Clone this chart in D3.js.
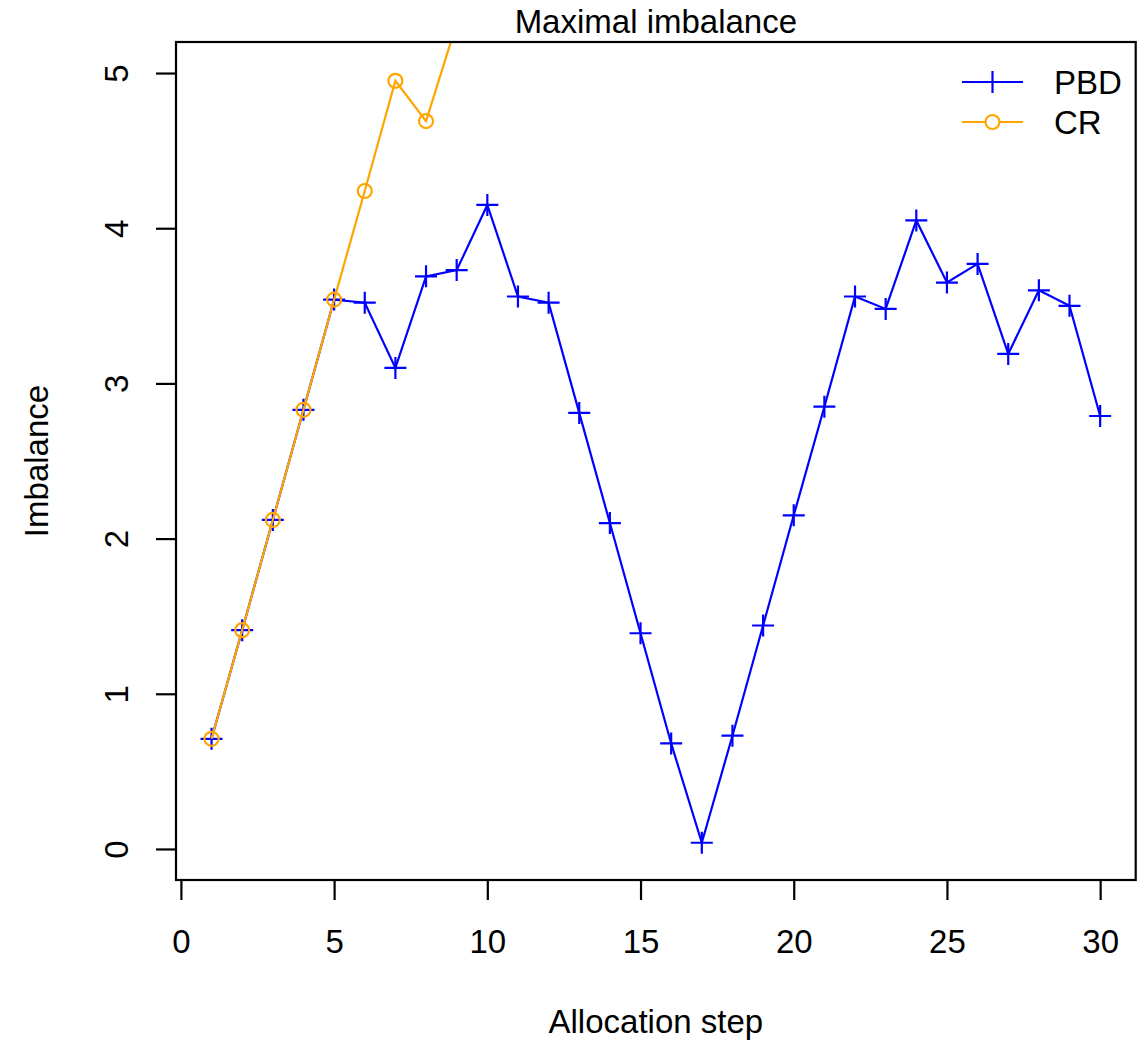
<!DOCTYPE html>
<html>
<head>
<meta charset="utf-8">
<script src="https://cdn.jsdelivr.net/npm/d3@7"></script>
<style>
  body { margin: 0; background: #fff; }
  text { font-family: "Liberation Sans", Arial, sans-serif; fill: #000; }
</style>
</head>
<body>
<svg id="chart" width="1148" height="1041"></svg>
<script>
// ---- data ----
const steps = d3.range(1, 31);
const pbdValues = [0.71, 1.41, 2.12, 2.83, 3.54, 3.52, 3.10, 3.69, 3.73, 4.15,
                   3.56, 3.52, 2.81, 2.10, 1.39, 0.68, 0.04, 0.73, 1.44, 2.15,
                   2.85, 3.56, 3.48, 4.05, 3.65, 3.77, 3.19, 3.60, 3.50, 2.79];
const crSteps = [1, 2, 3, 4, 5, 6, 7, 8, 9];
const crValues = [0.71, 1.41, 2.12, 2.83, 3.54, 4.24, 4.95, 4.69, 5.32];
const xTicks = [0, 5, 10, 15, 20, 25, 30];
const yTicks = [0, 1, 2, 3, 4, 5];
const seriesNames = ["PBD", "CR"];
const seriesColors = ["#0000FF", "#FFA500"];
const titleText = "Maximal imbalance";
const xLabel = "Allocation step";
const yLabel = "Imbalance";

// ---- layout ----
const svg = d3.select("#chart");
const L = 176, R = 1135.7, T = 42, B = 880;
const FS = 33;
const SW = 2.2;
const x = d3.scaleLinear().domain([-0.16, 31.16]).range([L, R]);
const y = d3.scaleLinear().domain([-0.2, 5.2]).range([B, T]);

svg.append("defs").append("clipPath").attr("id", "plotclip")
  .append("rect").attr("x", L).attr("y", T).attr("width", R - L).attr("height", B - T);

const plot = svg.append("g").attr("clip-path", "url(#plotclip)");

const line = d3.line().x(d => x(d[0])).y(d => y(d[1]));

const pbd = steps.map((s, i) => [s, pbdValues[i]]);
const cr = crSteps.map((s, i) => [s, crValues[i]]);

// PBD
plot.append("path").datum(pbd).attr("d", line)
  .attr("fill", "none").attr("stroke", seriesColors[0]).attr("stroke-width", SW);
const plusPath = h => `M${-h},0H${h}M0,${-h}V${h}`;
plot.selectAll(".pbdpt").data(pbd).enter().append("path")
  .attr("transform", d => `translate(${x(d[0])},${y(d[1])})`)
  .attr("d", plusPath(11)).attr("stroke", seriesColors[0]).attr("stroke-width", SW).attr("fill", "none");

// CR
plot.append("path").datum(cr).attr("d", line)
  .attr("fill", "none").attr("stroke", seriesColors[1]).attr("stroke-width", SW);
plot.selectAll(".crpt").data(cr.slice(0, 8)).enter().append("circle")
  .attr("cx", d => x(d[0])).attr("cy", d => y(d[1])).attr("r", 7)
  .attr("stroke", seriesColors[1]).attr("stroke-width", SW).attr("fill", "none");

// box
svg.append("rect").attr("x", L).attr("y", T).attr("width", R - L).attr("height", B - T)
  .attr("fill", "none").attr("stroke", "#000").attr("stroke-width", 2.2);

// x axis
const xa = svg.append("g").attr("transform", `translate(0,${B})`)
  .call(d3.axisBottom(x).tickValues(xTicks).tickSize(20).tickSizeOuter(0).tickFormat(d3.format("d")));
xa.select(".domain").remove();
xa.selectAll("line").attr("stroke", "#000").attr("stroke-width", 2.2);
xa.selectAll("text").attr("y", 73).attr("dy", 0).style("font-size", FS + "px")
  .style("font-family", "Liberation Sans, Arial, sans-serif").attr("fill", "#000");

// y axis
const ya = svg.append("g").attr("transform", `translate(${L},0)`)
  .call(d3.axisLeft(y).tickValues(yTicks).tickSize(20).tickSizeOuter(0).tickFormat(d3.format("d")));
ya.select(".domain").remove();
ya.selectAll("line").attr("stroke", "#000").attr("stroke-width", 2.2);
ya.selectAll("text").attr("x", 0).attr("y", -48).attr("dy", 0)
  .attr("transform", "rotate(-90)").attr("text-anchor", "middle")
  .style("font-size", FS + "px").style("font-family", "Liberation Sans, Arial, sans-serif").attr("fill", "#000");

// titles
const cx = (L + R) / 2;
svg.append("text").attr("x", cx).attr("y", 33).attr("text-anchor", "middle")
  .style("font-size", FS + "px").text(titleText);
svg.append("text").attr("x", cx).attr("y", 1033).attr("text-anchor", "middle")
  .style("font-size", FS + "px").text(xLabel);
svg.append("text").attr("transform", `translate(48,${(T + B) / 2}) rotate(-90)`)
  .attr("text-anchor", "middle").style("font-size", FS + "px").text(yLabel);

// legend
const legY = [82, 122];
seriesNames.forEach((name, i) => {
  const g = svg.append("g");
  g.append("line").attr("x1", 962).attr("x2", 1023).attr("y1", legY[i]).attr("y2", legY[i])
    .attr("stroke", seriesColors[i]).attr("stroke-width", SW);
  if (i === 0) {
    g.append("path").attr("transform", `translate(992.5,${legY[i]})`).attr("d", plusPath(11))
      .attr("stroke", seriesColors[i]).attr("stroke-width", SW);
  } else {
    g.append("circle").attr("cx", 992.5).attr("cy", legY[i]).attr("r", 7)
      .attr("stroke", seriesColors[i]).attr("stroke-width", SW).attr("fill", "#fff");
  }
  g.append("text").attr("x", 1054).attr("y", legY[i]).attr("dy", "0.36em")
    .style("font-size", FS + "px").text(name);
});
</script>
</body>
</html>
